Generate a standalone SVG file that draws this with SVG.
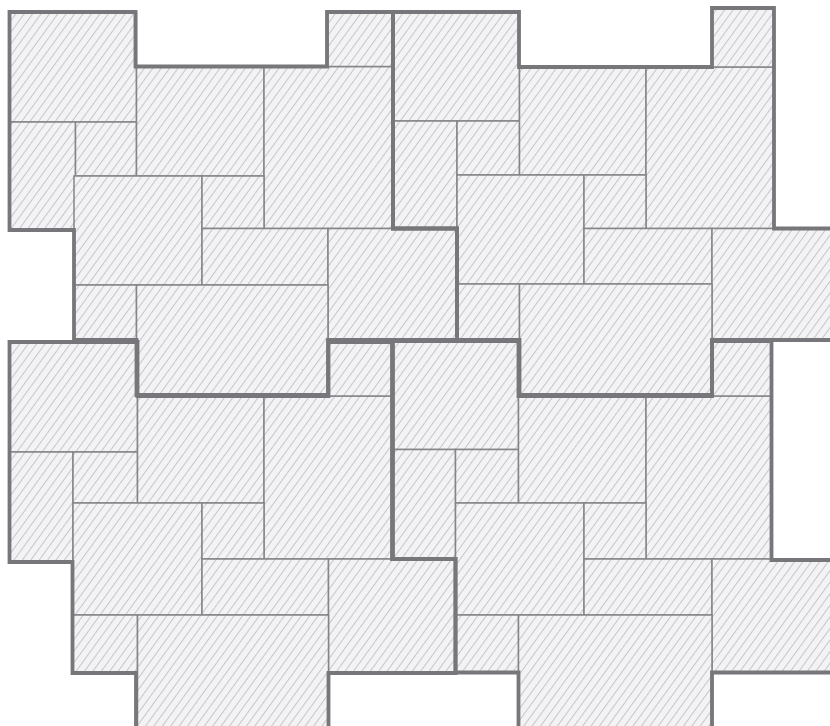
<svg xmlns="http://www.w3.org/2000/svg" width="830" height="726" viewBox="0 0 830 726">
<defs>
<pattern id="hatch" patternUnits="userSpaceOnUse" width="6.8" height="6.8" patternTransform="rotate(36)">
<rect width="6.8" height="6.8" fill="#f3f3f5"/>
<line x1="0.5" y1="0" x2="0.5" y2="6.8" stroke="#c6c6c9" stroke-width="1"/>
</pattern>
</defs>
<style>
.tile{fill:url(#hatch);stroke:#858589;stroke-width:1.5}
.outline{fill:none;stroke:#77777b;stroke-width:3.8;stroke-linejoin:miter}
</style>
<rect width="830" height="726" fill="#ffffff"/>
<g id="unit-1">
<rect class="tile" x="9.5" y="12" width="127" height="110"/>
<rect class="tile" x="9.5" y="122" width="66" height="108"/>
<rect class="tile" x="75.5" y="122" width="61" height="54"/>
<rect class="tile" x="136.5" y="66.5" width="127.5" height="109.5"/>
<rect class="tile" x="264" y="66.5" width="129" height="162"/>
<rect class="tile" x="328" y="12" width="65" height="54.5"/>
<rect class="tile" x="74" y="176" width="128" height="109"/>
<rect class="tile" x="202" y="176" width="62" height="52.5"/>
<rect class="tile" x="202" y="228.5" width="126" height="56.5"/>
<rect class="tile" x="328" y="228.5" width="129" height="111.5"/>
<rect class="tile" x="74" y="285" width="62.5" height="55"/>
<rect class="tile" x="136.5" y="285" width="191.5" height="110"/>
</g>
<g id="unit-2">
<rect class="tile" x="393" y="12" width="126.5" height="109"/>
<rect class="tile" x="393" y="121" width="64" height="107.5"/>
<rect class="tile" x="457" y="121" width="62.5" height="54"/>
<rect class="tile" x="519.5" y="67" width="126.5" height="108"/>
<rect class="tile" x="646" y="67" width="128" height="161.5"/>
<rect class="tile" x="712" y="8" width="62" height="59"/>
<rect class="tile" x="457" y="175" width="127" height="109"/>
<rect class="tile" x="584" y="175" width="62" height="53.5"/>
<rect class="tile" x="584" y="228.5" width="128" height="55.5"/>
<rect class="tile" x="712" y="228.5" width="128" height="111.5"/>
<rect class="tile" x="457" y="284" width="62.5" height="56"/>
<rect class="tile" x="519.5" y="284" width="192.5" height="111"/>
</g>
<g id="unit-3">
<rect class="tile" x="9.5" y="342" width="128" height="110"/>
<rect class="tile" x="9.5" y="452" width="63.5" height="109"/>
<rect class="tile" x="73" y="452" width="64.5" height="51"/>
<rect class="tile" x="137.5" y="396" width="126.5" height="107"/>
<rect class="tile" x="264" y="396" width="128" height="163"/>
<rect class="tile" x="328.5" y="342" width="63.5" height="54"/>
<rect class="tile" x="73" y="503" width="129" height="112"/>
<rect class="tile" x="202" y="503" width="62" height="56"/>
<rect class="tile" x="202" y="559" width="126.5" height="56"/>
<rect class="tile" x="328.5" y="559" width="127" height="114"/>
<rect class="tile" x="73" y="615" width="64.5" height="58"/>
<rect class="tile" x="137.5" y="615" width="191" height="114"/>
</g>
<g id="unit-4">
<rect class="tile" x="393" y="341" width="125.5" height="108.5"/>
<rect class="tile" x="393" y="449.5" width="62.5" height="109.5"/>
<rect class="tile" x="455.5" y="449.5" width="63" height="53.5"/>
<rect class="tile" x="518.5" y="396" width="127.5" height="107"/>
<rect class="tile" x="646" y="396" width="125.5" height="163"/>
<rect class="tile" x="712" y="341" width="59.5" height="55"/>
<rect class="tile" x="455.5" y="503" width="128.5" height="112"/>
<rect class="tile" x="584" y="503" width="62" height="56"/>
<rect class="tile" x="584" y="559" width="128" height="56"/>
<rect class="tile" x="712" y="559" width="124" height="113.5"/>
<rect class="tile" x="455.5" y="615" width="63" height="57.5"/>
<rect class="tile" x="518.5" y="615" width="193.5" height="114"/>
</g>
<g id="outlines">
<polygon class="outline" points="9.5,12 135.5,12 135.5,66.5 327,66.5 327,12 393,12 393,228.5 457,228.5 457,340 328,340 328,395 136.5,395 136.5,340 74,340 74,230 9.5,230"/>
<polygon class="outline" points="393,12 519,12 519,67 712,67 712,8 774,8 774,228.5 840,228.5 840,340 712,340 712,395 519.5,395 519.5,340 457,340 457,228.5 393,228.5"/>
<polygon class="outline" points="9.5,342 137.5,342 137.5,396 328.5,396 328.5,342 392,342 392,559 455.5,559 455.5,673 328.5,673 328.5,729 136,729 136,673 72.5,673 72.5,562 9.5,562"/>
<polygon class="outline" points="393,341 518.5,341 518.5,396 712,396 712,341 771.5,341 771.5,560 836,560 836,672.5 712,672.5 712,729 518.5,729 518.5,672.5 455.5,672.5 455.5,559 393,559"/>
</g>
</svg>
